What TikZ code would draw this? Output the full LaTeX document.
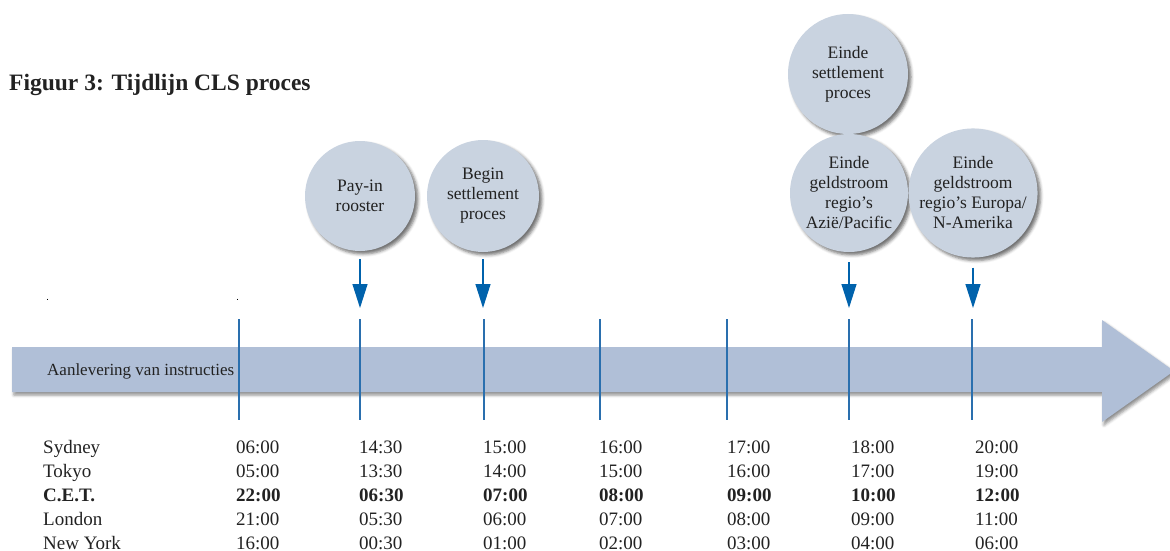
\documentclass[tikz,border=0pt]{standalone}
\usepackage{fontspec}
\setmainfont{Liberation Serif}
\usetikzlibrary{arrows.meta,shadows.blur}
\definecolor{barfill}{HTML}{B0BFD7}
\definecolor{circfill}{HTML}{C9D3E0}
\definecolor{lineblue}{HTML}{2A6FAE}
\definecolor{arrblue}{HTML}{0062AC}
\definecolor{txt}{HTML}{222222}
\begin{document}
\begin{tikzpicture}[x=1pt,y=-1pt,
  bubble/.style={circle, fill=circfill, inner sep=0pt, align=center, text=txt,
    font=\fontsize{17.5}{20}\selectfont,
    blur shadow={shadow xshift=3pt, shadow yshift=-3pt, shadow blur radius=3pt, shadow opacity=55}},
  arr/.style={draw=arrblue, line width=1.3pt, -{Triangle[length=24pt,width=15pt]}},
  tline/.style={draw=lineblue, line width=1.4pt},
  cell/.style={anchor=base west, inner sep=0pt, text=txt, font=\fontsize{19}{19}\selectfont},
  bcell/.style={cell, font=\fontsize{19}{19}\selectfont\bfseries},
]
\useasboundingbox (0,0) rectangle (1170,551);
% title
\node[anchor=base west, inner sep=0pt, text=txt, font=\fontsize{23.5}{23.5}\selectfont\bfseries] (title) at (9,90) {Figuur 3: Tijdlijn CLS proces};
% main arrow bar
\path[fill=barfill, blur shadow={shadow xshift=2pt, shadow yshift=-3pt, shadow blur radius=3pt, shadow opacity=45}]
  (12,347) -- (1102,347) -- (1102,320) -- (1174,371) -- (1102,422) -- (1102,392) -- (12,392) -- cycle;
\node[anchor=base west, inner sep=0pt, text=txt, font=\fontsize{17}{17}\selectfont] (bartext) at (47,375) {Aanlevering van instructies};
% tiny marks
\draw[black, line width=0.6pt] (47,298.5) -- (47,300);
\draw[black, line width=0.6pt] (237,298.5) -- (237,300);
% vertical time lines
\foreach \x/\n in {239/1,360/2,484/3,600/4,727/5,849/6,972/7}{
  \coordinate (top\n) at (\x,319);
  \coordinate (bot\n) at (\x,420);
  \draw[tline] (top\n) -- (bot\n);
}
% bubbles
\node[bubble, minimum size=110pt] (pay) at (360,196) {Pay-in\\rooster};
\node[bubble, minimum size=112pt] (begin) at (483,196) {Begin\\settlement\\proces};
\node[bubble, minimum size=120pt] (eset) at (848,74) {Einde\\settlement\\proces};
\node[bubble, minimum size=118pt] (azie) at (849,193) {Einde\\geldstroom\\regio’s\\Azië/Pacific};
\node[bubble, minimum size=118pt] (eur) at (973,193) {Einde\\geldstroom\\regio’s Europa/\\N-Amerika};
% arrows
\coordinate (a2) at (360,308);
\coordinate (a3) at (483,308);
\coordinate (a6) at (849,308);
\coordinate (a7) at (973,308);
\draw[arr, shorten <=8pt] (pay.south) -- (a2);
\draw[arr, shorten <=7pt] (begin.south) -- (a3);
\draw[arr, shorten <=10pt] (azie.south) -- (a6);
\draw[arr, shorten <=10pt] (eur.south) -- (a7);
% table
\node[cell] (r1) at (43,453) {Sydney};
\node[cell] (r2) at (43,477) {Tokyo};
\node[bcell] (r3) at (43,501) {C.E.T.};
\node[cell] (r4) at (43,525) {London};
\node[cell] (r5) at (43,549) {New York};
\foreach \x/\c/\a/\b/\cc/\d/\e in {
  236/1/06:00/05:00/22:00/21:00/16:00,
  359/2/14:30/13:30/06:30/05:30/00:30,
  483/3/15:00/14:00/07:00/06:00/01:00,
  599/4/16:00/15:00/08:00/07:00/02:00,
  727/5/17:00/16:00/09:00/08:00/03:00,
  851/6/18:00/17:00/10:00/09:00/04:00,
  975/7/20:00/19:00/12:00/11:00/06:00}{
  \node[cell] (c\c a) at (\x,453) {\a};
  \node[cell] (c\c b) at (\x,477) {\b};
  \node[bcell] (c\c c) at (\x,501) {\cc};
  \node[cell] (c\c d) at (\x,525) {\d};
  \node[cell] (c\c e) at (\x,549) {\e};
}
\end{tikzpicture}
\end{document}
